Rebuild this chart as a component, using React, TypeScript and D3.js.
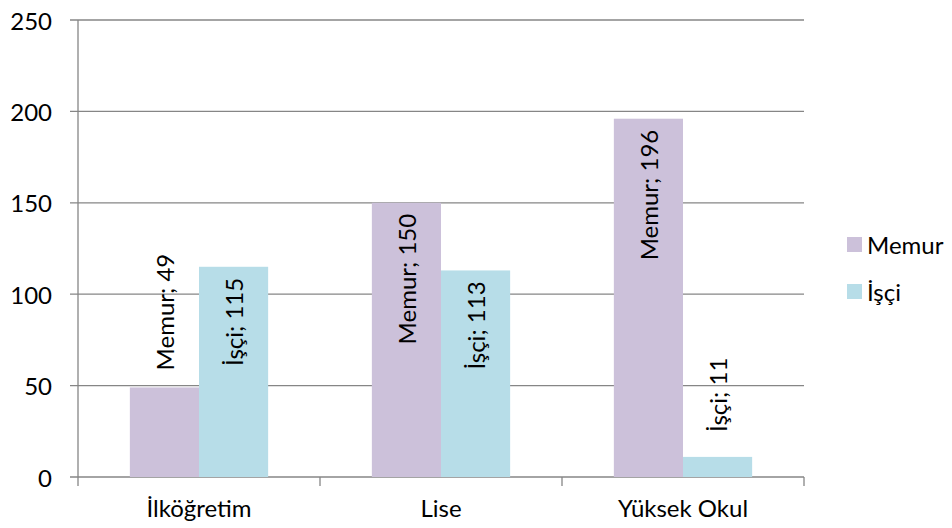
import React from "react";
import * as d3 from "d3";

const categories = ["İlköğretim", "Lise", "Yüksek Okul"];
const seriesNames = ["Memur", "İşçi"];
const memurValues = [49, 150, 196];
const isciValues = [115, 113, 11];
const yTicks = [0, 50, 100, 150, 200, 250];
const labelInside = [[false, true, true], [true, true, false]];

const colors = ["#CCC1DA", "#B7DDE8"];
const FONT = "Lato, 'Open Sans', sans-serif";
const FS = 24;

export default function App() {
  const width = 952;
  const height = 528;
  const left = 78;
  const right = 804;
  const top = 20;
  const bottom = 477;

  const x0 = d3.scaleBand().domain(categories).range([left, right]).paddingInner(0).paddingOuter(0);
  const bw = x0.bandwidth();
  const barW = bw / 3.5;
  const y = d3.scaleLinear().domain([0, 250]).range([bottom, top]);
  const x1 = d3.scaleBand().domain(seriesNames).range([0, barW * 2]);
  const series = [memurValues, isciValues];

  return (
    <svg width={width} height={height} style={{ position: "absolute", left: 0, top: 0, background: "#fff" }}>
      {yTicks.map((t) => (
        <g key={t}>
          <line x1={left - 8} x2={right} y1={y(t)} y2={y(t)} stroke="#868686" strokeWidth={1.3} />
          <text x={52} y={y(t)} textAnchor="end" dominantBaseline="central" fontFamily={FONT} fontSize={FS} fill="#000">
            {t}
          </text>
        </g>
      ))}
      <line x1={left} x2={left} y1={top} y2={bottom} stroke="#868686" strokeWidth={1.3} />
      {[left, ...categories.map((c) => (x0(c) as number) + bw)].map((xx, i) => (
        <line key={i} x1={xx} x2={xx} y1={bottom} y2={bottom + 9} stroke="#868686" strokeWidth={1.3} />
      ))}
      {categories.map((c) => (
        <text key={c} x={(x0(c) as number) + bw / 2} y={bottom + 40} textAnchor="middle" fontFamily={FONT} fontSize={FS} fill="#000">
          {c}
        </text>
      ))}
      {series.map((vals, si) =>
        vals.map((v, ci) => {
          const bx = (x0(categories[ci]) as number) + (bw - barW * 2) / 2 + (x1(seriesNames[si]) as number);
          return (
            <rect key={`${si}-${ci}`} x={bx} y={y(v)} width={barW} height={bottom - y(v)} fill={colors[si]} />
          );
        })
      )}
      {series.map((vals, si) =>
        vals.map((v, ci) => {
          const cx = (x0(categories[ci]) as number) + (bw - barW * 2) / 2 + (x1(seriesNames[si]) as number) + barW / 2;
          const inside = labelInside[si][ci];
          const oy = inside ? y(v) + 11 : y(v) - (si === 0 ? 17 : 25);
          return (
            <text
              key={`l-${si}-${ci}`}
              transform={`translate(${cx},${oy}) rotate(-90)`}
              textAnchor={inside ? "end" : "start"}
              dominantBaseline="central"
              fontFamily={FONT}
              fontSize={FS}
              fill="#000"
            >
              {`${seriesNames[si]}; ${v}`}
            </text>
          );
        })
      )}
      {seriesNames.map((s, i) => (
        <g key={s}>
          <rect x={847} y={237 + i * 47} width={15} height={15} fill={colors[i]} />
          <text x={867} y={244.5 + i * 47} dominantBaseline="central" fontFamily={FONT} fontSize={FS} fill="#000">
            {s}
          </text>
        </g>
      ))}
    </svg>
  );
}
